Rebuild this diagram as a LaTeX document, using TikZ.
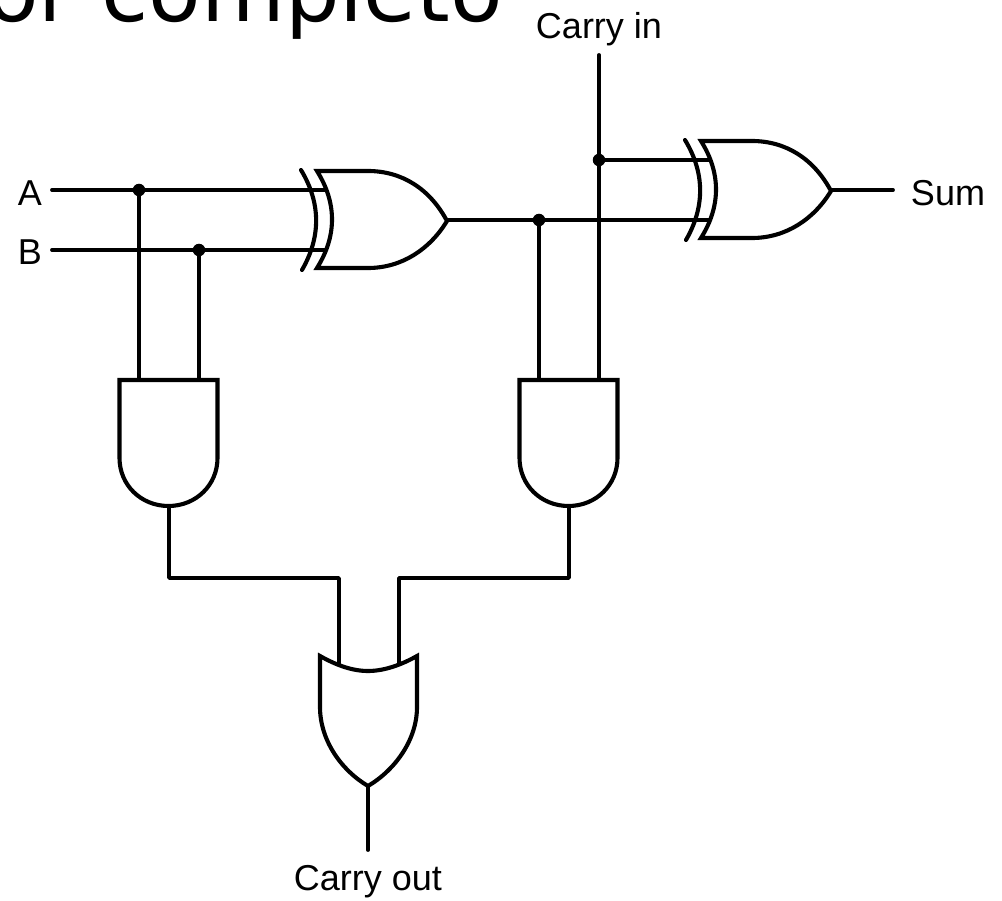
\documentclass[tikz,border=0pt]{standalone}
\usepackage{fontspec}
\setmainfont{Liberation Sans}
\newfontfamily\titlefont{DejaVu Sans}
\tikzset{
  wire/.style={line width=3.8pt,line cap=round,line join=round},
  gate/.style={line width=4.1pt,line join=miter,fill=white},
  arcline/.style={line width=4.1pt,line cap=round},
  dot/.style={circle,fill=black,inner sep=0pt,minimum size=12.5pt},
  lbl/.style={inner sep=0pt,font=\fontsize{36}{40}\selectfont},
  xorbody/.pic={
    \draw[gate] (0,0) .. controls (20,32) and (20,65) .. (0,97) -- (51,97)
      .. controls (85,97) and (113,78) .. (130,50) .. controls (113,18) and (85,0) .. (51,0) -- cycle;
    \draw[arcline] (-16,-1) .. controls (4,32) and (4,66) .. (-15,99);
  }
}
\begin{document}
\begin{tikzpicture}[x=1pt,y=-1pt]
\useasboundingbox (0,0) rectangle (1002,901);
\clip (0,0) rectangle (1002,901);
% title, cut by the page edge
\node[anchor=base west,inner sep=0pt,font=\titlefont\fontsize{86}{90}\selectfont] (title) at (-14,22) {or completo};
% labels
\node[lbl] (carryin) at (599,29) {Carry in};
\node[lbl] (a) at (30,193) {A};
\node[lbl] (b) at (30,252) {B};
\node[lbl] (sum) at (948,193) {Sum};
\node[lbl] (carryout) at (368,882) {Carry out};
% pin coordinates
\coordinate (ain) at (52,190);
\coordinate (bin) at (52,250);
\coordinate (cin) at (599,55);
\coordinate (ja) at (139,190);
\coordinate (jb) at (199,250);
\coordinate (jc) at (599,160);
\coordinate (js) at (539,220);
\coordinate (x1a) at (326,190);
\coordinate (x1b) at (326,250);
\coordinate (x1o) at (447,220);
\coordinate (x2a) at (710,160);
\coordinate (x2b) at (710,220);
\coordinate (x2o) at (831,190);
\coordinate (sout) at (893,190);
\coordinate (a1a) at (139,380);
\coordinate (a1b) at (199,380);
\coordinate (a1o) at (169,506);
\coordinate (a2a) at (539,380);
\coordinate (a2b) at (599,380);
\coordinate (a2o) at (569,506);
\coordinate (oa) at (339,668);
\coordinate (ob) at (399,668);
\coordinate (oo) at (368,786);
\coordinate (cout) at (368,850);
% wires
\draw[wire] (ain) -- (x1a);
\draw[wire] (bin) -- (x1b);
\draw[wire] (ja) -- (a1a);
\draw[wire] (jb) -- (a1b);
\draw[wire] (cin) -- (a2b);
\draw[wire] (jc) -- (x2a);
\draw[wire] (x1o) -- (x2b);
\draw[wire] (js) -- (a2a);
\draw[wire] (x2o) -- (sout);
\draw[wire] (a1o) |- (339,578) -- (oa);
\draw[wire] (a2o) |- (399,578) -- (ob);
\draw[wire] (oo) -- (cout);
% gates
\pic at (317,171) {xorbody};
\pic at (701,141) {xorbody};
\draw[gate] (119.5,380) -- (217.5,380) -- (217.5,458) .. controls (217.5,485) and (196,506) .. (168.5,506) .. controls (141,506) and (119.5,485) .. (119.5,458) -- cycle;
\draw[gate] (519.5,380) -- (617.5,380) -- (617.5,458) .. controls (617.5,485) and (596,506) .. (568.5,506) .. controls (541,506) and (519.5,485) .. (519.5,458) -- cycle;
\draw[gate] (320,656) .. controls (336,665) and (352,671) .. (368,671) .. controls (384,671) and (401,665) .. (417,656) -- (417,707)
  .. controls (417,740) and (395,770) .. (368,786) .. controls (341,770) and (320,740) .. (320,707) -- cycle;
% junctions
\node[dot] (dja) at (ja) {};
\node[dot] (djb) at (jb) {};
\node[dot] (djc) at (jc) {};
\node[dot] (djs) at (js) {};
\end{tikzpicture}
\end{document}
